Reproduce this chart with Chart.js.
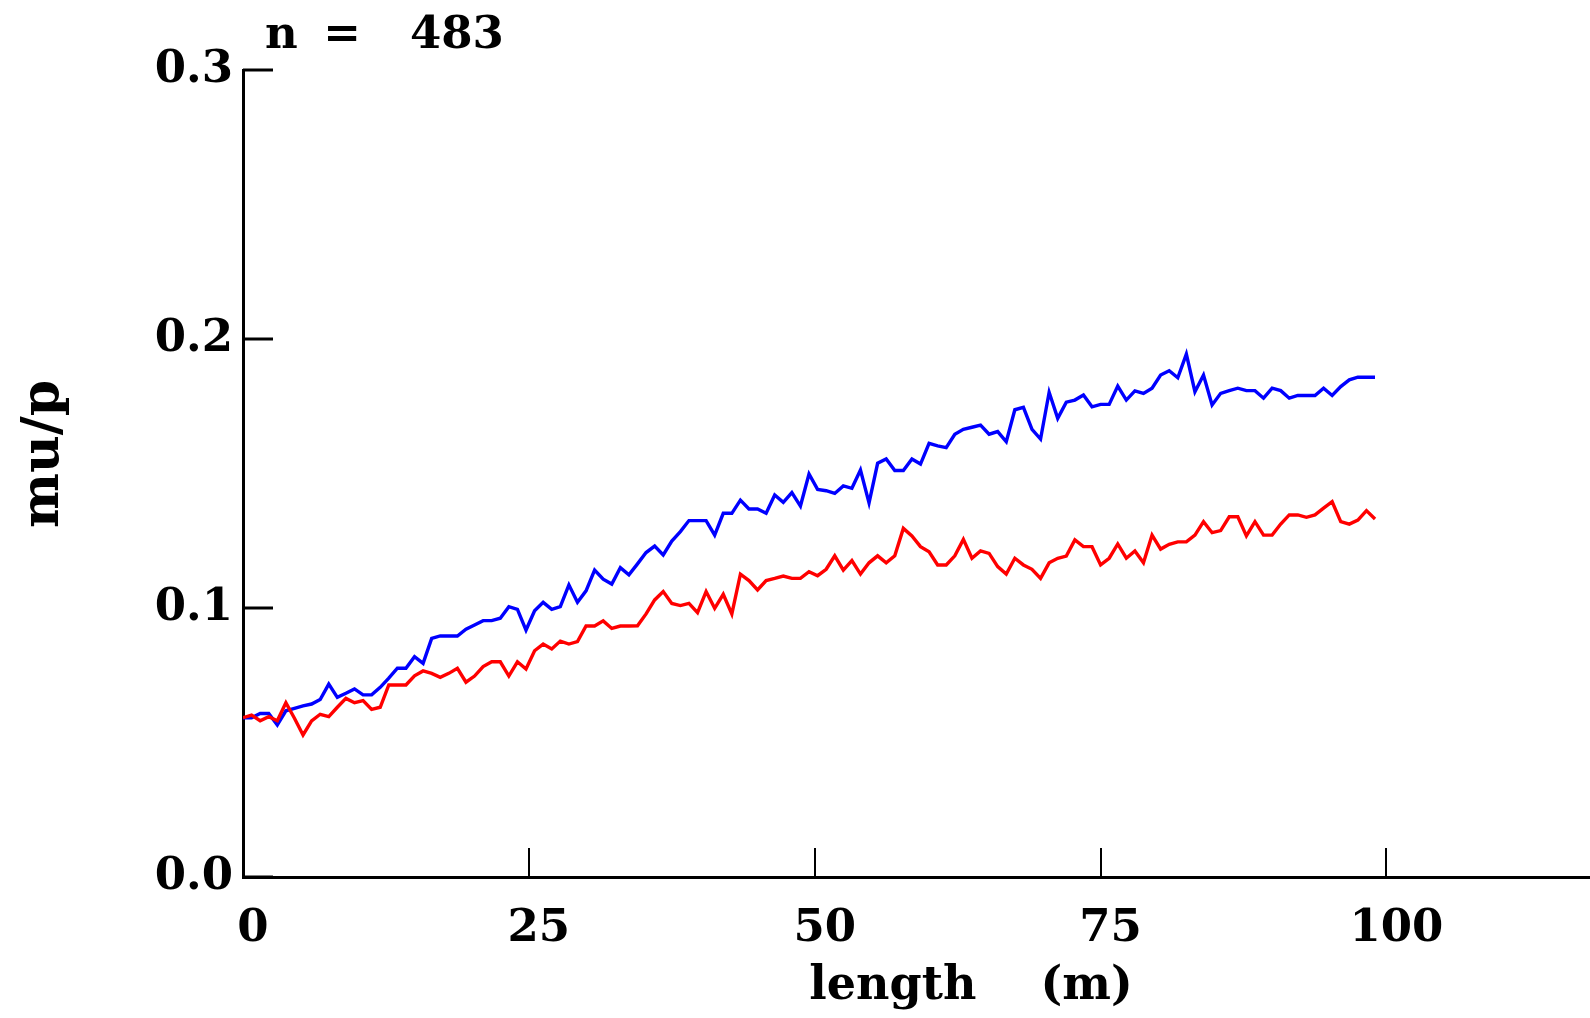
<!DOCTYPE html>
<html><head><meta charset="utf-8">
<script src="https://cdn.jsdelivr.net/npm/chart.js@4.4.0/dist/chart.umd.min.js"></script>
<style>html,body{margin:0;padding:0;background:#fff;} #wrap{width:1590px;height:1018px;position:relative;}</style>
</head><body><div id="wrap"><canvas id="c" width="1590" height="1018"></canvas></div>
<script>
const lengths = [
0,0.75,1.5,2.25,3,3.75,4.5,5.25,6,6.75,
7.5,8.25,9,9.75,10.5,11.25,12,12.75,13.5,14.25,
15,15.75,16.5,17.25,18,18.75,19.5,20.25,21,21.75,
22.5,23.25,24,24.75,25.5,26.25,27,27.75,28.5,29.25,
30,30.75,31.5,32.25,33,33.75,34.5,35.25,36,36.75,
37.5,38.25,39,39.75,40.5,41.25,42,42.75,43.5,44.25,
45,45.75,46.5,47.25,48,48.75,49.5,50.25,51,51.75,
52.5,53.25,54,54.75,55.5,56.25,57,57.75,58.5,59.25,
60,60.75,61.5,62.25,63,63.75,64.5,65.25,66,66.75,
67.5,68.25,69,69.75,70.5,71.25,72,72.75,73.5,74.25,
75,75.75,76.5,77.25,78,78.75,79.5,80.25,81,81.75,
82.5,83.25,84,84.75,85.5,86.25,87,87.75,88.5,89.25,
90,90.75,91.5,92.25,93,93.75,94.5,95.25,96,96.75,
97.5,98.25,99];

const blueValues = [
0.0592,0.0592,0.0608,0.0608,0.0565,0.0618,0.0627,0.0636,0.0643,0.0660,
0.0717,0.0668,0.0683,0.0699,0.0677,0.0677,0.0705,0.0739,0.0776,0.0776,
0.0819,0.0794,0.0887,0.0896,0.0896,0.0896,0.0921,0.0937,0.0953,0.0953,
0.0962,0.1005,0.0995,0.0918,0.0990,0.1021,0.0995,0.1005,0.1086,0.1021,
0.1064,0.1141,0.1107,0.1089,0.1150,0.1123,0.1164,0.1206,0.1230,0.1197,
0.1249,0.1284,0.1325,0.1325,0.1325,0.1271,0.1352,0.1352,0.1401,0.1368,
0.1368,0.1352,0.1420,0.1393,0.1429,0.1379,0.1498,0.1441,0.1436,0.1426,
0.1454,0.1445,0.1513,0.1391,0.1538,0.1554,0.1511,0.1511,0.1554,0.1535,
0.1612,0.1603,0.1596,0.1646,0.1664,0.1672,0.1680,0.1646,0.1656,0.1618,
0.1737,0.1746,0.1664,0.1628,0.1802,0.1705,0.1765,0.1773,0.1792,0.1748,
0.1757,0.1757,0.1825,0.1773,0.1807,0.1798,0.1817,0.1866,0.1882,0.1856,
0.1944,0.1804,0.1866,0.1755,0.1798,0.1808,0.1817,0.1808,0.1808,0.1780,
0.1817,0.1808,0.1780,0.1790,0.1790,0.1790,0.1817,0.1790,0.1823,0.1848,
0.1858,0.1858,0.1858];

const redValues = [
0.0592,0.0602,0.0581,0.0596,0.0581,0.0648,0.0590,0.0528,0.0580,0.0605,
0.0596,0.0631,0.0664,0.0648,0.0656,0.0623,0.0631,0.0714,0.0714,0.0714,
0.0748,0.0766,0.0757,0.0742,0.0757,0.0776,0.0724,0.0747,0.0782,0.0800,
0.0800,0.0747,0.0800,0.0773,0.0841,0.0866,0.0848,0.0877,0.0866,0.0875,
0.0933,0.0933,0.0952,0.0924,0.0933,0.0933,0.0934,0.0978,0.1030,0.1061,
0.1017,0.1009,0.1017,0.0983,0.1061,0.0999,0.1051,0.0978,0.1126,0.1102,
0.1067,0.1102,0.1110,0.1119,0.1110,0.1110,0.1135,0.1120,0.1144,0.1194,
0.1141,0.1176,0.1126,0.1168,0.1194,0.1168,0.1194,0.1296,0.1268,0.1228,
0.1209,0.1160,0.1160,0.1194,0.1255,0.1185,0.1212,0.1203,0.1154,0.1126,
0.1185,0.1160,0.1144,0.1110,0.1168,0.1185,0.1193,0.1253,0.1228,0.1228,
0.1160,0.1185,0.1238,0.1185,0.1212,0.1168,0.1271,0.1219,0.1237,0.1246,
0.1246,0.1271,0.1321,0.1280,0.1288,0.1339,0.1339,0.1268,0.1321,0.1271,
0.1271,0.1312,0.1346,0.1346,0.1337,0.1346,0.1371,0.1395,0.1321,0.1312,
0.1327,0.1362,0.1331];

const xTicks = [0, 25, 50, 75, 100];
const xTickLabels = ['0', '25', '50', '75', '100'];
const yTicks = [0.0, 0.1, 0.2, 0.3];
const yTickLabels = ['0.0', '0.1', '0.2', '0.3'];
const xTitle = 'length    (m)';
const yTitle = 'mu/p';
const noteParts = ['n', '=', '483'];

const FONT = '"DejaVu Serif", serif';

const decor = {
  id: 'decor',
  afterDraw(chart) {
    const {ctx, chartArea, scales: {x, y}} = chart;
    ctx.save();
    ctx.strokeStyle = '#000';
    ctx.lineCap = 'butt';
    ctx.lineWidth = 3;
    yTicks.forEach(v => {
      const py = Math.round(y.getPixelForValue(v));
      ctx.beginPath(); ctx.moveTo(chartArea.left, py); ctx.lineTo(chartArea.left + 30, py); ctx.stroke();
    });
    ctx.lineWidth = 2;
    xTicks.forEach(v => {
      if (v === x.min) return;
      const px = Math.round(x.getPixelForValue(v));
      ctx.beginPath(); ctx.moveTo(px, chartArea.bottom); ctx.lineTo(px, chartArea.bottom - 29); ctx.stroke();
    });
    ctx.fillStyle = '#000';
    ctx.font = 'bold 46px ' + FONT;
    ctx.textAlign = 'center';
    ctx.textBaseline = 'alphabetic';
    ctx.fillText(xTitle, 971, 999);
    ctx.save();
    ctx.translate(44, 454);
    ctx.rotate(-Math.PI / 2);
    ctx.font = 'bold 52px ' + FONT;
    ctx.textBaseline = 'middle';
    ctx.fillText(yTitle, 0, 0);
    ctx.restore();
    ctx.font = 'bold 45px ' + FONT;
    ctx.textBaseline = 'alphabetic';
    ctx.textAlign = 'left';
    ctx.fillText(noteParts[0], 265, 48);
    ctx.textAlign = 'center';
    ctx.fillText(noteParts[1], 342, 48);
    ctx.textAlign = 'left';
    ctx.fillText(noteParts[2], 410, 48);
    ctx.restore();
  }
};

new Chart(document.getElementById('c'), {
  type: 'line',
  data: {
    datasets: [
      { label: 'red', data: lengths.map((l, i) => ({x: l, y: redValues[i]})), borderColor: '#ff0000', borderWidth: 3.4, pointRadius: 0, tension: 0, fill: false },
      { label: 'blue', data: lengths.map((l, i) => ({x: l, y: blueValues[i]})), borderColor: '#0000ff', borderWidth: 3.4, pointRadius: 0, tension: 0, fill: false }
    ]
  },
  options: {
    responsive: false,
    devicePixelRatio: 1,
    animation: false,
    layout: { padding: { top: 70, right: 0, left: 0, bottom: 0 } },
    plugins: { legend: { display: false }, tooltip: { enabled: false }, title: { display: false } },
    scales: {
      x: {
        type: 'linear', min: 0, max: 117.8,
        afterBuildTicks: s => { s.ticks = xTicks.map(v => ({value: v})); },
        afterFit: s => { s.height = 141; },
        ticks: {
          autoSkip: false, maxRotation: 0, minRotation: 0,
          padding: 25, labelOffset: 10, color: '#000',
          font: { family: FONT, size: 45, weight: 'bold' },
          callback: v => xTickLabels[xTicks.indexOf(v)]
        },
        grid: { display: true, drawOnChartArea: false, drawTicks: false },
        border: { display: true, color: '#000', width: 3 }
      },
      y: {
        type: 'linear', min: 0, max: 0.3,
        afterBuildTicks: s => { s.ticks = yTicks.map(v => ({value: v})); },
        afterFit: s => { s.width = 243; },
        ticks: {
          padding: 10, color: '#000',
          font: { family: FONT, size: 45, weight: 'bold' },
          callback: v => yTickLabels[yTicks.findIndex(t => Math.abs(t - v) < 1e-9)]
        },
        grid: { display: true, drawOnChartArea: false, drawTicks: false },
        border: { display: true, color: '#000', width: 3 }
      }
    }
  },
  plugins: [decor]
});
</script>
</body></html>
